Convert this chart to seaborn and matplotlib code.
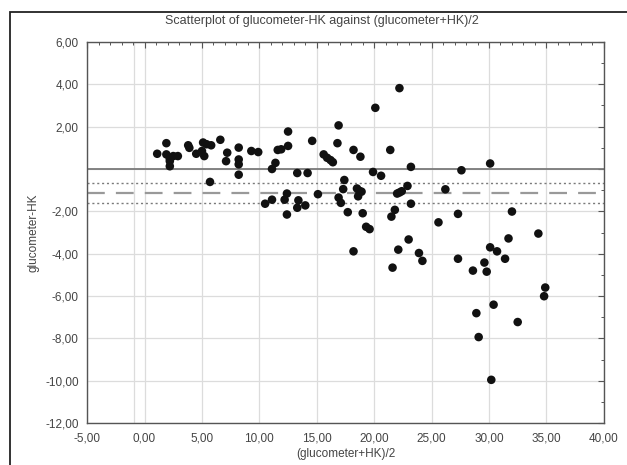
import matplotlib
matplotlib.use("Agg")
import matplotlib.pyplot as plt
import matplotlib.ticker as mticker
from matplotlib.patches import Rectangle
import pandas as pd
import seaborn as sns

# Values
mean_x = [
    1.1, 1.9, 1.9, 2.2, 2.5, 2.9, 2.2, 2.2, 3.8, 3.9, 4.5, 5.1, 5.4, 5.8, 5.2, 5.0,
    5.7, 6.6, 7.2, 7.1, 8.2, 8.2, 8.2, 8.2, 9.3, 9.9, 11.6, 11.9, 11.4, 11.1, 10.5, 11.1,
    12.5, 12.5, 12.4, 12.2, 12.4, 13.3, 14.2, 13.3, 13.4, 14.0, 14.6, 15.6, 15.9, 16.2,
    16.4, 15.1, 16.9, 16.8, 18.2, 18.8, 21.4, 19.9, 20.6, 20.1, 22.2, 23.2, 17.4, 17.3,
    16.9, 17.1, 18.5, 18.7, 18.9, 18.6, 17.7, 19.0, 19.3, 19.6, 22.0, 22.2, 22.4, 22.9,
    23.2, 21.8, 21.5, 18.2, 23.0, 22.1, 21.6, 23.9, 24.2,
    27.6, 30.1, 26.2, 25.6, 27.3, 32.0, 27.3, 28.6, 29.6, 29.8, 30.1, 30.7, 31.4, 31.7,
    34.3, 34.9, 34.8, 30.4, 32.5, 28.9, 29.1, 30.2,
]
diff_y = [
    0.72, 1.22, 0.69, 0.48, 0.61, 0.61, 0.13, 0.37, 1.12, 1.0, 0.72, 1.25, 1.17, 1.12, 0.61, 0.85,
    -0.61, 1.38, 0.77, 0.37, 1.01, 0.45, 0.22, -0.27, 0.85, 0.8, 0.9, 0.93, 0.29, 0.0, -1.64, -1.45,
    1.77, 1.09, -1.16, -1.45, -2.15, -0.19, -0.19, -1.83, -1.48, -1.72, 1.33, 0.69, 0.53, 0.42,
    0.32, -1.19, 2.06, 1.22, 0.9, 0.58, 0.9, -0.14, -0.32, 2.89, 3.82, 0.1, -0.52, -0.95,
    -1.35, -1.6, -0.92, -1.03, -1.07, -1.29, -2.04, -2.09, -2.73, -2.84, -1.16, -1.11, -1.05, -0.8,
    -1.64, -1.93, -2.25, -3.89, -3.33, -3.81, -4.66, -3.97, -4.34,
    -0.06, 0.26, -0.96, -2.52, -2.12, -2.01, -4.24, -4.8, -4.42, -4.85, -3.7, -3.89, -4.24, -3.28,
    -3.05, -5.6, -6.01, -6.41, -7.23, -6.81, -7.94, -9.96,
]
mean_diff = -1.12
ci_lower = -1.6
ci_upper = -0.64
x_ticks = [-5, 0, 5, 10, 15, 20, 25, 30, 35, 40]
y_ticks = [-12, -10, -8, -6, -4, -2, 0, 2, 4, 6]

df = pd.DataFrame({'mean': mean_x, 'diff': diff_y})

sns.set_style('white')
plt.rcParams['font.family'] = ['Liberation Sans Narrow', 'Liberation Sans', 'DejaVu Sans']

fig = plt.figure(figsize=(6.27, 4.65), dpi=100)
ax = fig.add_axes([0.139, 0.0903, 0.824, 0.8194])

grid_col = '#dcdcdc'
for xv in x_ticks:
    ax.axvline(xv, color=grid_col, lw=0.9, zorder=0)
ax.axvline(-0.95, color=grid_col, lw=0.9, zorder=0)
for yv in y_ticks:
    ax.axhline(yv, color=grid_col, lw=0.9, zorder=0)

ax.axhline(0, color='#7a7a7a', lw=1.3, zorder=1)
ax.axhline(mean_diff, color='#999999', lw=1.6, ls=(0, (8, 5)), zorder=1)
ax.axhline(ci_upper, color='#7a7a7a', lw=1.0, ls=(0, (1.5, 2)), zorder=1)
ax.axhline(ci_lower, color='#7a7a7a', lw=1.0, ls=(0, (1.5, 2)), zorder=1)

sns.scatterplot(data=df, x='mean', y='diff', ax=ax, color='#111111',
                s=38, edgecolor='none', zorder=3, legend=False)

ax.set_xlim(-5, 40)
ax.set_ylim(-12, 6)
ax.set_xticks(x_ticks)
ax.set_yticks(y_ticks)
ax.xaxis.set_minor_locator(mticker.MultipleLocator(1))
ax.yaxis.set_minor_locator(mticker.MultipleLocator(1))

ax.xaxis.set_major_formatter(mticker.FuncFormatter(lambda v, p: f'{v:.2f}'.replace('.', ',')))
ax.yaxis.set_major_formatter(mticker.FuncFormatter(
    lambda v, p: '' if abs(v) < 1e-9 else f'{v:.2f}'.replace('.', ',')))

ax.tick_params(which='both', direction='in', top=True, right=True, colors='#555555',
               labelcolor='#444444', labelsize=8.5)
ax.tick_params(axis='x', which='major', pad=7)
ax.tick_params(axis='y', which='major', pad=6)
ax.tick_params(which='major', length=4, width=0.8)
ax.tick_params(which='minor', length=2.5, width=0.7)
for sp in ax.spines.values():
    sp.set_color('#555555')
    sp.set_linewidth(1.0)

ax.set_xlabel('(glucometer+HK)/2', fontsize=8.5, color='#444444', labelpad=2)
ax.set_ylabel('glucometer-HK', fontsize=8.5, color='#444444', labelpad=4)
fig.text(322 / 627, 1 - 21 / 465, 'Scatterplot of glucometer-HK against (glucometer+HK)/2',
         ha='center', va='center', fontsize=9, color='#444444')

# outer frame of the original screenshot
fig.patches.append(Rectangle((10 / 627, -0.1), 1.2, 1.1 - 12 / 465, transform=fig.transFigure,
                             fill=False, edgecolor='#222222', lw=1.3))

fig.savefig('out.png', dpi=100)
